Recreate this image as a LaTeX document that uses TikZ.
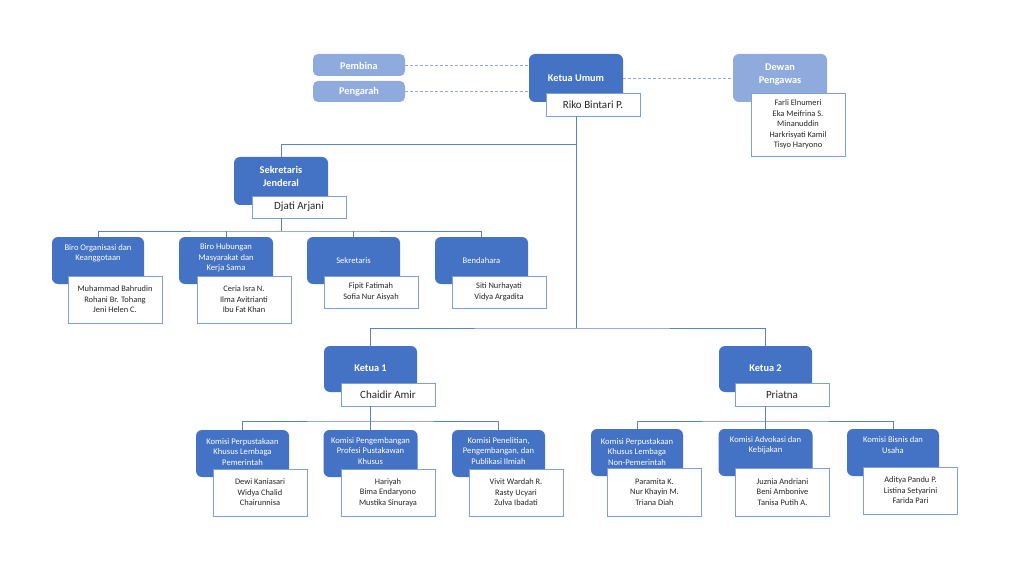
\documentclass[tikz,border=0pt]{standalone}
\usepackage{fontspec}
\setmainfont{Carlito}
\definecolor{dkblue}{HTML}{4472C4}
\definecolor{ltblue}{HTML}{8FAADC}
\definecolor{nmline}{HTML}{7F9FD8}
\definecolor{cnline}{HTML}{5A80CC}
\begin{document}
\begin{tikzpicture}[x=1pt,y=-1pt,
  dbox/.style={fill=dkblue, draw=none, rounded corners=6pt, inner sep=0pt, minimum width=94pt, minimum height=48pt},
  lbox/.style={fill=ltblue, draw=none, rounded corners=5pt, inner sep=0pt, minimum width=92pt},
  nbox/.style={draw=nmline, fill=white, line width=0.8pt, inner sep=0pt, minimum width=94pt, align=center, text=black!85},
  ttext/.style={text=white, font=\fontsize{10.3}{12.8}\selectfont\bfseries, align=center, inner sep=0pt},
  stext/.style={text=white, font=\fontsize{8.6}{10.3}\selectfont, align=center, inner sep=0pt},
  bigname/.style={nbox, font=\fontsize{11}{13}\selectfont},
  smname/.style={nbox, font=\fontsize{8.4}{10.6}\selectfont},
  conn/.style={draw=cnline, line width=0.9pt},
  dconn/.style={draw=ltblue, line width=0.9pt, dash pattern=on 3pt off 2pt}]
\useasboundingbox (0,0) rectangle (1024,577);

% ---------- top level ----------
\node[lbox, minimum height=22pt] (pb) at (359,65) {};
\node[ttext] (pbt) at (359,65.5) {Pembina};
\node[lbox, minimum height=21pt] (pg) at (359,91.5) {};
\node[ttext] (pgt) at (359,92) {Pengarah};
\node[dbox] (ku) at (576,78) {};
\node[ttext] (kut) at (576,78) {Ketua Umum};
\node[lbox, minimum width=94pt, minimum height=48pt, rounded corners=6pt] (dw) at (780,78) {};
\node[ttext] (dwt) at (780,74.5) {Dewan\\Pengawas};
\node[bigname, minimum height=23pt] (kun) at (593,104.5) {Riko Bintari P.};
\node[smname, minimum height=63pt] (dwn) at (798,124.5) {Farli Elnumeri\\Eka Meifrina S.\\Minanuddin\\Harkrisyati Kamil\\Tisyo Haryono};

% ---------- sekretaris jenderal ----------
\node[dbox] (sj) at (281,181) {};
\node[ttext] (sjt) at (281,176.5) {Sekretaris\\Jenderal};
\node[bigname, minimum height=22pt] (sjn) at (299,207) {Djati Arjani};

\node[dbox, minimum width=92pt, minimum height=47pt] (bo) at (98,260.5) {};
\node[stext] (bot) at (98,253) {Biro Organisasi dan\\Keanggotaan};
\node[smname, minimum height=47pt] (bon) at (115,299.5) {Muhammad Bahrudin\\Rohani Br. Tohang\\Jeni Helen C.};

\node[dbox, minimum width=94pt, minimum height=47pt] (bh) at (226,260.5) {};
\node[stext] (bht) at (226,258) {Biro Hubungan\\Masyarakat dan\\Kerja Sama};
\node[smname, minimum height=47pt] (bhn) at (244,299.5) {Ceria Isra N.\\Ilma Avitrianti\\Ibu Fat Khan};

\node[dbox, minimum width=93pt, minimum height=47pt] (se) at (353.5,260.5) {};
\node[stext] (set) at (353.5,261) {Sekretaris};
\node[smname, minimum height=32pt] (sen) at (371,292) {Fipit Fatimah\\Sofia Nur Aisyah};

\node[dbox, minimum width=93pt, minimum height=47pt] (be) at (481.5,260.5) {};
\node[stext] (bet) at (481.5,261) {Bendahara};
\node[smname, minimum height=32pt] (ben) at (499,292) {Siti Nurhayati\\Vidya Argadita};

% ---------- ketua 1 ----------
\node[dbox, minimum width=93pt, minimum height=46pt] (ka1) at (370.5,369) {};
\node[ttext] (ka1t) at (370.5,368) {Ketua 1};
\node[bigname, minimum height=23pt] (ka1n) at (388,394.5) {Chaidir Amir};

\node[dbox, minimum width=93pt, minimum height=47pt] (kp1) at (242.5,453.5) {};
\node[stext] (kp1t) at (242.5,452) {Komisi Perpustakaan\\Khusus Lembaga\\Pemerintah};
\node[smname, minimum height=47pt] (kp1n) at (260,492.5) {Dewi Kaniasari\\Widya Chalid\\Chairunnisa};

\node[dbox, minimum width=94pt, minimum height=47pt] (kpp) at (370.5,453.5) {};
\node[stext] (kppt) at (370.5,451) {Komisi Pengembangan\\Profesi Pustakawan\\Khusus};
\node[smname, minimum height=47pt] (kppn) at (388,492.5) {Hariyah\\Bima Endaryono\\Mustika Sinuraya};

\node[dbox, minimum width=93pt, minimum height=47pt] (kpe) at (498.5,453.5) {};
\node[stext] (kpet) at (498.5,451) {Komisi Penelitian,\\Pengembangan, dan\\Publikasi Ilmiah};
\node[smname, minimum height=47pt] (kpen) at (516,492.5) {Vivit Wardah R.\\Rasty Ucyari\\Zulva Ibadati};

% ---------- ketua 2 ----------
\node[dbox, minimum width=93pt, minimum height=46pt] (ka2) at (765.5,369) {};
\node[ttext] (ka2t) at (765.5,368) {Ketua 2};
\node[bigname, minimum height=23pt] (ka2n) at (782,394.5) {Priatna};

\node[dbox, minimum width=92pt, minimum height=47pt] (kpn) at (637,452.5) {};
\node[stext] (kpnt) at (637,452) {Komisi Perpustakaan\\Khusus Lembaga\\Non-Pemerintah};
\node[smname, minimum height=48pt] (kpnn) at (654.5,492) {Paramita K.\\Nur Khayin M.\\Triana Diah};

\node[dbox, minimum width=94pt, minimum height=47pt] (kad) at (765.5,452.5) {};
\node[stext] (kadt) at (765.5,445.5) {Komisi Advokasi dan\\Kebijakan};
\node[smname, minimum height=48pt] (kadn) at (782.5,492) {Juznia Andriani\\Beni Ambonive\\Tanisa Putih A.};

\node[dbox, minimum width=92pt, minimum height=47pt] (kbs) at (893,452.5) {};
\node[stext] (kbst) at (893,445) {Komisi Bisnis dan\\Usaha};
\node[smname, minimum height=47pt] (kbsn) at (910.5,490.5) {Aditya Pandu P.\\Listina Setyarini\\Farida Pari};

% ---------- junction coordinates ----------
\coordinate (jtop) at (0,144);
\coordinate (jmid) at (0,328);
\coordinate (jsj) at (0,231);
\coordinate (jk) at (0,421);

% ---------- connectors ----------
\draw[dconn] (pb.east) -- (ku.west |- pb.east);
\draw[dconn] (pg.east) -- (ku.west |- pg.east);
\draw[dconn] (ku.east) -- (dw.west);

\draw[conn] (ku.center |- kun.south) -- (ku.center |- jmid);
\draw[conn] (ku.center |- jtop) -| (sj.north);
\draw[conn] (ka1.north) |- (ku.center |- jmid) -| (ka2.north);

\draw[conn] (sj.center |- sjn.south) -- (sj.center |- jsj);
\draw[conn] (bo.north) |- (jsj -| sj.center) -| (be.north);
\draw[conn] (bh.north) -- (bh.north |- jsj);
\draw[conn] (se.north) -- (se.north |- jsj);

\draw[conn] (ka1.center |- ka1n.south) -- (kpp.north);
\draw[conn] (kp1.north) |- (jk -| ka1.center) -| (kpe.north);

\draw[conn] (ka2.center |- ka2n.south) -- (kad.north);
\draw[conn] (kpn.north) |- (jk -| ka2.center) -| (kbs.north);
\end{tikzpicture}
\end{document}
